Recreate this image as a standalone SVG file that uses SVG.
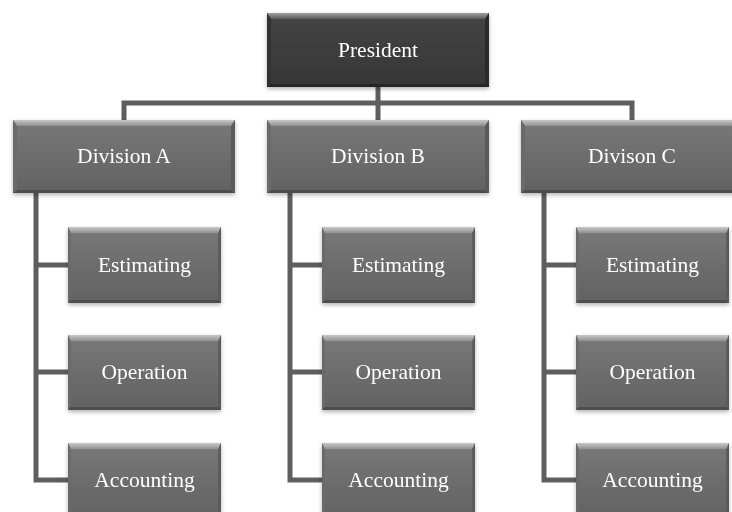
<svg xmlns="http://www.w3.org/2000/svg" width="732" height="512" viewBox="0 0 732 512">
  <defs>
    <linearGradient id="gDiv" x1="0" y1="0" x2="0" y2="1">
      <stop offset="0" stop-color="#787878"/>
      <stop offset="1" stop-color="#626262"/>
    </linearGradient>
    <linearGradient id="gPres" x1="0" y1="0" x2="0" y2="1">
      <stop offset="0" stop-color="#444444"/>
      <stop offset="1" stop-color="#363636"/>
    </linearGradient>
    <linearGradient id="gTop" x1="0" y1="0" x2="0" y2="1">
      <stop offset="0" stop-color="#c8c8c8"/>
      <stop offset="1" stop-color="#8e8e8e"/>
    </linearGradient>
    <linearGradient id="gTopDark" x1="0" y1="0" x2="0" y2="1">
      <stop offset="0" stop-color="#a0a0a0"/>
      <stop offset="1" stop-color="#5a5a5a"/>
    </linearGradient>
    <filter id="shadow" x="-10%" y="-10%" width="120%" height="130%">
      <feDropShadow dx="0" dy="2" stdDeviation="2" flood-color="#000" flood-opacity="0.3"/>
    </filter>
    <!-- bevelled box frame, reused by every department and division -->
    <symbol id="bevelDiv" viewBox="0 0 222 73" preserveAspectRatio="none">
      <rect x="0" y="0" width="222" height="73" fill="url(#gDiv)"/>
      <polygon points="0,0 222,0 218,6 4,6" fill="url(#gTop)"/>
      <polygon points="0,0 4,6 4,70 0,73" fill="#6a6a6a"/>
      <polygon points="222,0 218,6 218,70 222,73" fill="#5a5a5a"/>
      <polygon points="0,73 4,70 218,70 222,73" fill="#4e4e4e"/>
    </symbol>
  </defs>
  <style>
    .link { stroke: #5e5e5e; stroke-width: 5; fill: none; stroke-linejoin: miter; }
    .lbl { font-family: "Liberation Serif", "Times New Roman", serif; font-size: 21.5px; fill: #ffffff; text-anchor: middle; }
    .box { filter: url(#shadow); }
  </style>

  <rect width="732" height="512" fill="#ffffff"/>

  <!-- connectors -->
  <g id="connectors">
    <path class="link" d="M378,87 V120"/>
    <path class="link" d="M124,120 V103 H632 V120"/>
    <path class="link" d="M36,193 V480 H68 M36,265 H68 M36,372 H68"/>
    <path class="link" d="M290,193 V480 H322 M290,265 H322 M290,372 H322"/>
    <path class="link" d="M544,193 V480 H576 M544,265 H576 M544,372 H576"/>
  </g>

  <!-- President -->
  <g id="president" class="box">
    <rect x="267" y="13" width="222" height="74" fill="url(#gPres)"/>
    <polygon points="267,13 489,13 485,19 271,19" fill="url(#gTopDark)"/>
    <polygon points="267,13 271,19 271,84 267,87" fill="#333"/>
    <polygon points="489,13 485,19 485,84 489,87" fill="#2c2c2c"/>
    <polygon points="267,87 271,84 485,84 489,87" fill="#262626"/>
    <text class="lbl" x="378" y="57">President</text>
  </g>

  <!-- Divisions -->
  <g id="divA" class="box">
    <use href="#bevelDiv" x="13" y="120" width="222" height="73"/>
    <text class="lbl" x="124" y="163">Division A</text>
  </g>
  <g id="divB" class="box">
    <use href="#bevelDiv" x="267" y="120" width="222" height="73"/>
    <text class="lbl" x="378" y="163">Division B</text>
  </g>
  <g id="divC" class="box">
    <use href="#bevelDiv" x="521" y="120" width="222" height="73"/>
    <text class="lbl" x="632" y="163">Divison C</text>
  </g>

  <!-- Division A departments -->
  <g id="estA" class="box">
    <use href="#bevelDiv" x="68" y="227" width="153" height="76"/>
    <text class="lbl" x="144.5" y="272">Estimating</text>
  </g>
  <g id="opA" class="box">
    <use href="#bevelDiv" x="68" y="335" width="153" height="75"/>
    <text class="lbl" x="144.5" y="379">Operation</text>
  </g>
  <g id="accA" class="box">
    <use href="#bevelDiv" x="68" y="443" width="153" height="76"/>
    <text class="lbl" x="144.5" y="487">Accounting</text>
  </g>

  <!-- Division B departments -->
  <g id="estB" class="box">
    <use href="#bevelDiv" x="322" y="227" width="153" height="76"/>
    <text class="lbl" x="398.5" y="272">Estimating</text>
  </g>
  <g id="opB" class="box">
    <use href="#bevelDiv" x="322" y="335" width="153" height="75"/>
    <text class="lbl" x="398.5" y="379">Operation</text>
  </g>
  <g id="accB" class="box">
    <use href="#bevelDiv" x="322" y="443" width="153" height="76"/>
    <text class="lbl" x="398.5" y="487">Accounting</text>
  </g>

  <!-- Division C departments -->
  <g id="estC" class="box">
    <use href="#bevelDiv" x="576" y="227" width="153" height="76"/>
    <text class="lbl" x="652.5" y="272">Estimating</text>
  </g>
  <g id="opC" class="box">
    <use href="#bevelDiv" x="576" y="335" width="153" height="75"/>
    <text class="lbl" x="652.5" y="379">Operation</text>
  </g>
  <g id="accC" class="box">
    <use href="#bevelDiv" x="576" y="443" width="153" height="76"/>
    <text class="lbl" x="652.5" y="487">Accounting</text>
  </g>
</svg>
